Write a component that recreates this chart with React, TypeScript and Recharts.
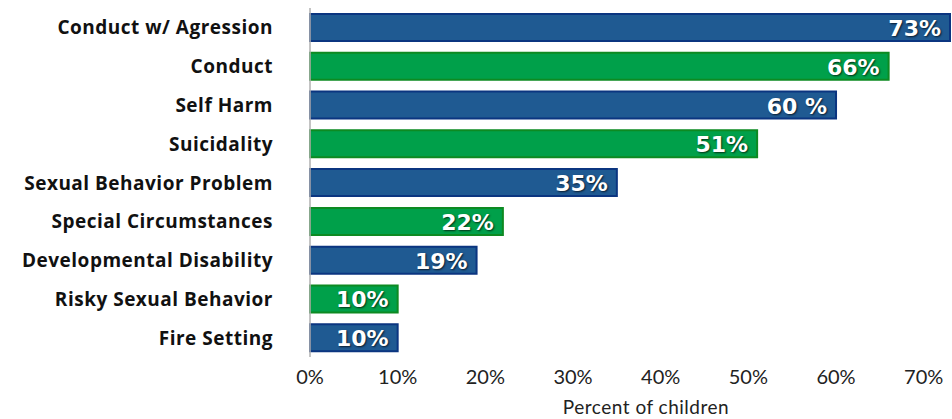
import { Bar, BarChart, Cell, LabelList, XAxis, YAxis } from 'recharts';

const categories = [
  'Conduct w/ Agression',
  'Conduct',
  'Self Harm',
  'Suicidality',
  'Sexual Behavior Problem',
  'Special Circumstances',
  'Developmental Disability',
  'Risky Sexual Behavior',
  'Fire Setting',
];
const percents = [73, 66, 60, 51, 35, 22, 19, 10, 10];
const valueLabels = ['73%', '66%', '60 %', '51%', '35%', '22%', '19%', '10%', '10%'];
const xTicks = [0, 10, 20, 30, 40, 50, 60, 70];

const data = categories.map((name, i) => ({ name, value: percents[i], label: valueLabels[i] }));

const BLUE = '#1f5a92';
const BLUE_EDGE = '#0b3580';
const GREEN = '#00a04a';
const GREEN_EDGE = '#0d8a22';

function CategoryTick(props: any) {
  const { y, payload } = props;
  return (
    <text
      x={273}
      y={y}
      textAnchor="end"
      dominantBaseline="central"
      fontFamily="Open Sans"
      fontWeight={700}
      fontSize={19}
      letterSpacing={0.5}
      fill="#111"
    >
      {payload.value}
    </text>
  );
}

function ValueLabel(props: any) {
  const { x, y, width, height, value } = props;
  return (
    <text
      x={x + width - 9}
      y={y + height / 2 + 1}
      textAnchor="end"
      dominantBaseline="central"
      fontFamily="DejaVu Sans"
      fontWeight={700}
      fontSize={22}
      fill="#fff"
      style={{ textShadow: '1px 1px 2px rgba(0,0,0,0.7)' }}
    >
      {value}
    </text>
  );
}

function AxisTitle(props: any) {
  const { viewBox } = props;
  return (
    <text
      x={viewBox.x + viewBox.width / 2 + 16}
      y={406}
      textAnchor="middle"
      dominantBaseline="central"
      fontFamily="Lato"
      fontSize={19}
      letterSpacing={0.5}
      fill="#222"
    >
      Percent of children
    </text>
  );
}

export default function App() {
  return (
    <div style={{ position: 'absolute', left: 0, top: 0, background: '#fff' }}>
      <BarChart
        width={952}
        height={419}
        data={data}
        layout="vertical"
        margin={{ top: 8, right: 2, bottom: 0, left: 0 }}
        barSize={27}
      >
        <XAxis
          type="number"
          domain={[0, 73]}
          ticks={xTicks}
          tickFormatter={(v) => `${v}%`}
          axisLine={false}
          tickLine={false}
          tickMargin={7}
          height={62}
          tick={{ fontFamily: 'Lato', fontSize: 20, fill: '#222' }}
          label={<AxisTitle />}
        />
        <YAxis
          type="category"
          dataKey="name"
          width={310}
          axisLine={{ stroke: '#b0b0b0', strokeWidth: 1.5 }}
          tickLine={false}
          tick={<CategoryTick />}
          interval={0}
        />
        <Bar dataKey="value" isAnimationActive={false} strokeWidth={2}>
          {data.map((d, i) => (
            <Cell
              key={d.name}
              fill={i % 2 === 0 ? BLUE : GREEN}
              stroke={i % 2 === 0 ? BLUE_EDGE : GREEN_EDGE}
            />
          ))}
          <LabelList dataKey="label" content={<ValueLabel />} />
        </Bar>
      </BarChart>
    </div>
  );
}
